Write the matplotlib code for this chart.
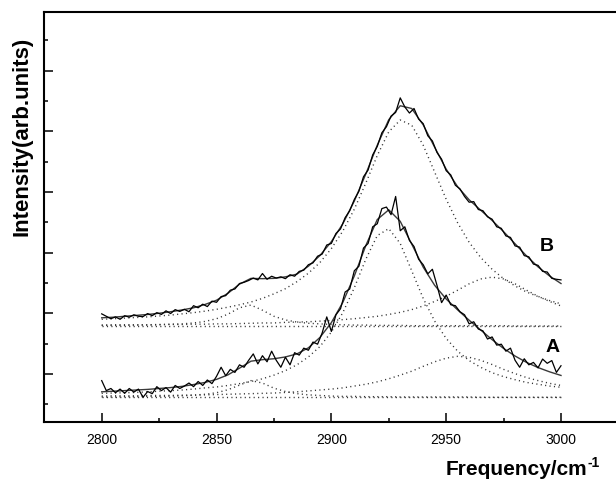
import matplotlib
matplotlib.use("Agg")
import matplotlib.pyplot as plt
from matplotlib.ticker import MultipleLocator

plt.rcParams['font.family'] = ['Liberation Sans', 'DejaVu Sans']

# ---------------- data ----------------
x_fit = list(range(2800, 3001, 5))     # wavenumber grid of fitted curves / components
x_raw = list(range(2800, 3001, 2))     # wavenumber grid of measured spectra

# Spectrum B (upper)
B_base = [3.58] * len(x_fit)
B_p1 = [3.60, 3.60, 3.60, 3.61, 3.61, 3.62, 3.64, 3.65, 3.68, 3.73,
        3.82, 3.97, 4.18, 4.27, 4.10, 3.90, 3.78, 3.71, 3.67, 3.65,
        3.63, 3.62, 3.61, 3.61, 3.60, 3.60, 3.60, 3.59, 3.59, 3.59,
        3.59, 3.59, 3.59, 3.59, 3.59, 3.59, 3.58, 3.58, 3.58, 3.58, 3.58]
B_p2 = [3.80, 3.82, 3.84, 3.86, 3.88, 3.91, 3.94, 3.98, 4.02, 4.07,
        4.13, 4.20, 4.28, 4.37, 4.49, 4.64, 4.81, 5.04, 5.32, 5.67,
        6.13, 6.71, 7.43, 8.29, 9.20, 9.98, 10.37, 10.20, 9.54, 8.65,
        7.76, 6.98, 6.34, 5.84, 5.45, 5.14, 4.90, 4.70, 4.55, 4.42, 4.31]
B_p3 = [3.61, 3.62, 3.62, 3.62, 3.62, 3.63, 3.63, 3.63, 3.64, 3.64,
        3.65, 3.65, 3.66, 3.67, 3.68, 3.68, 3.70, 3.71, 3.72, 3.74,
        3.76, 3.79, 3.82, 3.86, 3.90, 3.96, 4.03, 4.12, 4.24, 4.39,
        4.56, 4.76, 4.97, 5.13, 5.19, 5.13, 4.97, 4.76, 4.56, 4.39, 4.24]
B_fit = [3.85, 3.87, 3.90, 3.93, 3.96, 4.00, 4.05, 4.11, 4.18, 4.29,
         4.43, 4.66, 4.96, 5.15, 5.14, 5.15, 5.20, 5.29, 5.55, 5.90,
         6.36, 6.95, 7.70, 8.59, 9.54, 10.38, 10.84, 10.75, 10.21, 9.47,
         8.75, 8.17, 7.74, 7.40, 7.06, 6.69, 6.29, 5.89, 5.53, 5.23, 4.98]
B_raw = [3.98, 3.90, 3.82, 3.88, 3.80, 3.92, 3.87, 3.95, 3.90, 3.89,
         3.99, 3.92, 4.02, 3.96, 4.08, 3.99, 4.12, 4.06, 4.13, 4.05,
         4.25, 4.18, 4.30, 4.22, 4.40, 4.36, 4.55, 4.58, 4.76, 4.80,
         4.98, 5.02, 5.08, 5.16, 5.10, 5.31, 5.12, 5.22, 5.16, 5.20,
         5.14, 5.27, 5.22, 5.38, 5.42, 5.60, 5.66, 5.88, 5.95, 6.25,
         6.30, 6.63, 6.78, 7.15, 7.38, 7.75, 8.02, 8.50, 8.72, 9.22,
         9.50, 9.95, 10.15, 10.50, 10.62, 11.10, 10.80, 10.60, 10.75, 10.40,
         10.25, 9.85, 9.68, 9.30, 9.08, 8.70, 8.56, 8.22, 8.10, 7.85,
         7.66, 7.68, 7.42, 7.38, 7.18, 7.10, 6.85, 6.80, 6.55, 6.50,
         6.22, 6.18, 5.90, 5.86, 5.62, 5.58, 5.38, 5.36, 5.15, 5.12,
         5.10]

# Spectrum A (lower)
A_base = [1.23] * len(x_fit)
A_p1 = [1.24, 1.24, 1.25, 1.25, 1.26, 1.26, 1.27, 1.28, 1.30, 1.33,
        1.38, 1.48, 1.63, 1.78, 1.70, 1.53, 1.42, 1.35, 1.31, 1.29,
        1.27, 1.26, 1.26, 1.25, 1.25, 1.25, 1.24, 1.24, 1.24, 1.24,
        1.24, 1.24, 1.24, 1.23, 1.23, 1.23, 1.23, 1.23, 1.23, 1.23, 1.23]
A_p2 = [1.36, 1.37, 1.38, 1.39, 1.41, 1.43, 1.45, 1.47, 1.50, 1.54,
        1.57, 1.62, 1.68, 1.75, 1.84, 1.96, 2.11, 2.30, 2.56, 2.90,
        3.38, 4.02, 4.84, 5.78, 6.56, 6.79, 6.30, 5.40, 4.49, 3.74,
        3.17, 2.75, 2.44, 2.22, 2.04, 1.91, 1.81, 1.72, 1.66, 1.60, 1.56]
A_p3 = [1.27, 1.28, 1.28, 1.28, 1.29, 1.29, 1.29, 1.30, 1.30, 1.31,
        1.32, 1.33, 1.34, 1.35, 1.36, 1.37, 1.39, 1.41, 1.44, 1.47,
        1.50, 1.54, 1.60, 1.66, 1.74, 1.84, 1.96, 2.09, 2.25, 2.40,
        2.52, 2.58, 2.55, 2.45, 2.31, 2.15, 2.01, 1.88, 1.78, 1.69, 1.62]
A_fit = [1.41, 1.43, 1.45, 1.47, 1.49, 1.52, 1.55, 1.59, 1.65, 1.72,
         1.82, 1.97, 2.19, 2.42, 2.47, 2.50, 2.56, 2.66, 2.86, 3.20,
         3.69, 4.36, 5.23, 6.23, 7.09, 7.41, 7.03, 6.28, 5.52, 4.92,
         4.47, 4.11, 3.77, 3.45, 3.13, 2.84, 2.59, 2.38, 2.21, 2.07, 1.95]
A_raw = [1.78, 1.45, 1.52, 1.38, 1.50, 1.36, 1.52, 1.40, 1.50, 1.23,
         1.42, 1.35, 1.58, 1.45, 1.55, 1.40, 1.62, 1.52, 1.60, 1.70,
         1.58, 1.75, 1.62, 1.80, 1.68, 1.92, 2.22, 1.94, 2.15, 2.05,
         2.30, 2.22, 2.45, 2.66, 2.33, 2.60, 2.40, 2.75, 2.45, 2.22,
         2.55, 2.30, 2.70, 2.62, 2.85, 2.78, 3.05, 2.98, 3.35, 3.88,
         3.40, 3.95, 4.15, 4.70, 4.80, 5.40, 5.55, 6.15, 6.30, 6.85,
         6.95, 7.45, 7.50, 7.25, 7.85, 6.72, 6.85, 6.40, 6.20, 5.78,
         5.60, 5.30, 5.45, 4.92, 4.35, 4.60, 4.28, 4.25, 4.05, 3.95,
         3.65, 3.72, 3.48, 3.42, 3.15, 3.22, 2.95, 2.98, 2.75, 2.85,
         2.45, 2.22, 2.50, 2.30, 2.38, 2.20, 2.49, 2.35, 2.44, 2.05,
         2.27]

x_ticks = [2800, 2850, 2900, 2950, 3000]
x_tick_labels = ["2800", "2850", "2900", "2950", "3000"]
series_labels = ["A", "B"]

# ---------------- figure ----------------
fig = plt.figure(figsize=(6.16, 4.81), dpi=100)
ax = fig.add_axes([0.0719, 0.1212, 0.932, 0.8511])

dot_style = dict(color='#333333', lw=1.0, linestyle=(0, (0.8, 2.4)))
for comp in (B_base, B_p1, B_p2, B_p3, A_base, A_p1, A_p2, A_p3):
    ax.plot(x_fit, comp, **dot_style)

ax.plot(x_fit, B_fit, color='#3a3a3a', lw=1.0)
ax.plot(x_fit, A_fit, color='#3a3a3a', lw=1.0)
ax.plot(x_raw, B_raw, color='black', lw=0.9)
ax.plot(x_raw, A_raw, color='black', lw=0.9)

ax.text(2993.7, 6.23, series_labels[1], fontsize=14, fontweight='bold',
        ha='center', va='center')
ax.text(2996.5, 2.89, series_labels[0], fontsize=14, fontweight='bold',
        ha='center', va='center')

ax.set_xlim(2775, 3025)
ax.set_ylim(0.425, 13.92)
ax.set_xticks(x_ticks)
ax.set_xticklabels(x_tick_labels)
ax.xaxis.set_minor_locator(MultipleLocator(25))
ax.yaxis.set_major_locator(MultipleLocator(2))
ax.yaxis.set_minor_locator(MultipleLocator(1))
ax.tick_params(axis='y', which='both', labelleft=False)
ax.tick_params(which='major', direction='in', length=6.5, width=1.1,
               labelsize=10, pad=7.5)
ax.tick_params(which='minor', direction='in', length=3.2, width=1.1)
ax.tick_params(top=False, right=False, which='both')
for s in ('left', 'bottom', 'top'):
    ax.spines[s].set_linewidth(1.5)
ax.spines['right'].set_visible(False)

fig.text(0.0365, 0.717, "Intensity(arb.units)", rotation=90, fontsize=16,
         fontweight='bold', ha='center', va='center')
fig.text(587 / 616, 1 - 475 / 481, "Frequency/cm", fontsize=15,
         fontweight='bold', ha='right', va='baseline')
fig.text(587.5 / 616, 1 - 467 / 481, "-1", fontsize=10,
         fontweight='bold', ha='left', va='baseline')

fig.savefig("out.png", dpi=100)
